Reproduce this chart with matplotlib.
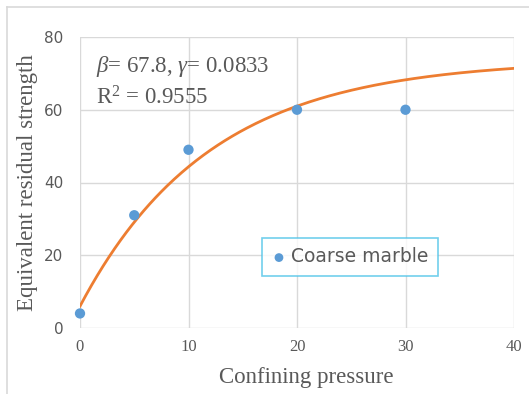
import numpy as np
import matplotlib
matplotlib.use("Agg")
import matplotlib.pyplot as plt
from matplotlib.lines import Line2D

# Measured points
pressure = [0, 5, 10, 20, 30]
strength = [4, 31, 49, 60, 60]

# Fitted exponential curve: y = y0 + beta * (1 - exp(-gamma * x))
beta = 67.8
gamma = 0.0833
y0 = 6.0
r2 = 0.9555

x_ticks = [0, 10, 20, 30, 40]
y_ticks = [0, 20, 40, 60, 80]

plt.rcParams["mathtext.fontset"] = "custom"
plt.rcParams["mathtext.rm"] = "Liberation Serif"
plt.rcParams["mathtext.it"] = "Liberation Serif:italic"

W, H = 529, 394
fig = plt.figure(figsize=(W / 100, H / 100), dpi=100)
ax = fig.add_axes([80 / W, 1 - 328 / H, (514 - 80) / W, (328 - 37) / H])

grid_c = "#D9D9D9"
for s in ax.spines.values():
    s.set_visible(False)
ax.set_xlim(0, 40)
ax.set_ylim(0, 80)
ax.set_xticks(x_ticks)
ax.set_yticks(y_ticks)
ax.grid(True, color=grid_c, linewidth=1)
ax.set_axisbelow(True)
ax.tick_params(axis="x", length=0, pad=8)
ax.tick_params(axis="y", length=0, pad=12)
for lab in ax.get_xticklabels():
    lab.set_fontfamily("Liberation Serif")
    lab.set_fontsize(12)
    lab.set_color("#595959")
for lab in ax.get_yticklabels():
    lab.set_fontfamily("DejaVu Sans")
    lab.set_fontsize(11)
    lab.set_color("#595959")

xs = np.linspace(0, 40, 300)
ax.plot(xs, y0 + beta * (1 - np.exp(-gamma * xs)), color="#ED7D31", lw=2, zorder=2)
ax.scatter(pressure, strength, s=55, color="#5B9BD5", zorder=3, label="Coarse marble",
           edgecolors="none", clip_on=False)

ax.set_xlabel("Confining pressure", fontfamily="Liberation Serif", fontsize=16.5,
              color="#595959", labelpad=9)
ax.xaxis.set_label_coords(0.522, -0.135)
ax.set_ylabel("Equivalent residual strength", fontfamily="Liberation Serif", fontsize=16.5,
              color="#595959", labelpad=4)

ax.text(0.038, 0.897, r"$\it{\beta}$= 67.8, $\it{\gamma}$= 0.0833", transform=ax.transAxes,
        fontfamily="Liberation Serif", fontsize=16.5, color="#595959", va="center", ha="left")
ax.text(0.038, 0.792, r"R$^2$ = 0.9555", transform=ax.transAxes,
        fontfamily="Liberation Serif", fontsize=16.5, color="#595959", va="center", ha="left")

leg = ax.legend(loc="center", bbox_to_anchor=((350 - 80) / (514 - 80), (328 - 257) / (328 - 37)),
                frameon=True, fancybox=False, handletextpad=0.25, borderpad=0.5,
                handlelength=0.8, markerscale=0.85, borderaxespad=0,
                prop={"family": "DejaVu Sans", "size": 13.5})
leg.get_frame().set_edgecolor("#4FC3E8")
leg.get_frame().set_linewidth(1.2)
for t in leg.get_texts():
    t.set_color("#595959")

# Outer chart frame (top and left edges)
fig.add_artist(Line2D([7 / W, 1], [1 - 7 / H, 1 - 7 / H], color="#D9D9D9", lw=1.2,
                      transform=fig.transFigure))
fig.add_artist(Line2D([7 / W, 7 / W], [0, 1 - 7 / H], color="#D9D9D9", lw=1.2,
                      transform=fig.transFigure))

fig.savefig("out.png", dpi=100)
